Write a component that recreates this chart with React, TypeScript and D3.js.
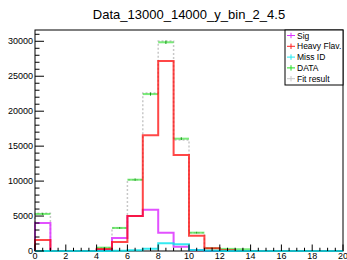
import * as d3 from 'd3';

const W = 347;
const H = 260;
const MARGIN = { top: 30, right: 4, bottom: 9, left: 35 };
const FONT = '"Liberation Sans", Arial, Helvetica, sans-serif';

// 20 bins of width 1 on [0, 20]
const binEdges = d3.range(0, 21);
const dataCounts = [5300, 0, 0, 0, 480, 3300, 10200, 22450, 29860, 16070, 2620, 380, 300, 250, 0, 0, 0, 0, 0, 0];
const sigCounts = [4000, 0, 0, 0, 150, 1860, 5000, 5900, 2620, 620, 120, 0, 0, 0, 0, 0, 0, 0, 0, 0];
const heavyFlavCounts = [1570, 0, 0, 0, 300, 1290, 5010, 16550, 27180, 13730, 2190, 380, 100, 0, 0, 0, 0, 0, 0, 0];
const missIdCounts = [0, 0, 0, 0, 0, 50, 100, 330, 1100, 960, 150, 50, 0, 0, 0, 0, 0, 0, 0, 0];
const fitCounts = [5400, 0, 0, 0, 450, 3300, 10200, 22600, 30040, 15880, 2600, 400, 100, 0, 0, 0, 0, 0, 0, 0];

const xTickLabels = [0, 2, 4, 6, 8, 10, 12, 14, 16, 18, 20];
const yTickLabels = [0, 5000, 10000, 15000, 20000, 25000, 30000];
const legendNames = ['Sig', 'Heavy Flav.', 'Miss ID', 'DATA', 'Fit result'];
const legendColors = ['#dd33ff', '#ff2020', '#22e8f0', '#22dd22', '#c8c8c8'];

const TITLE = 'Data_13000_14000_y_bin_2_4.5';

export default function App() {
  const x0 = MARGIN.left;
  const x1 = W - MARGIN.right;
  const y0 = H - MARGIN.bottom;
  const y1 = MARGIN.top;

  const xScale = d3.scaleLinear().domain([0, 20]).range([x0, x1]);
  const yScale = d3.scaleLinear().domain([0, 31616]).range([y0, y1]);

  // ROOT style step outline of a histogram
  const stepPath = (counts: number[]) => {
    const pts: [number, number][] = [[0, 0]];
    counts.forEach((v, i) => {
      pts.push([binEdges[i], v]);
      pts.push([binEdges[i + 1], v]);
    });
    pts.push([20, 0]);
    return d3
      .line<[number, number]>()
      .x((d) => xScale(d[0]))
      .y((d) => yScale(d[1]))(pts) as string;
  };

  const xMinor = d3.range(0, 20.001, 0.5);
  const yMinor = d3.range(0, 31001, 1000);
  const majorX = 6.5;
  const majorY = 9;

  const legX = 285;
  const legY = 30;
  const legW = x1 - legX;
  const legH = 55;

  return (
    <svg
      width={W}
      height={H}
      style={{ position: 'absolute', left: 0, top: 0, background: '#fff' }}
      fontFamily={FONT}
    >
      <rect x={0} y={0} width={W} height={H} fill="#fff" />
      <text x={189} y={18.5} textAnchor="middle" fontSize={13} fill="#000">
        {TITLE}
      </text>

      {/* fit result */}
      <path d={stepPath(fitCounts)} fill="none" stroke="#c8c8c8" strokeWidth={1.5} strokeDasharray="2,2" />

      {/* data points as bin-wide segments with error bars */}
      {dataCounts.map((v, i) => (
        <g key={'d' + i}>
          <line
            x1={xScale(binEdges[i])}
            x2={xScale(binEdges[i + 1])}
            y1={yScale(v)}
            y2={yScale(v)}
            stroke="#22dd22"
            strokeOpacity={0.6}
            strokeWidth={2}
          />
          {v > 0 && (
            <line
              x1={xScale(binEdges[i] + 0.5)}
              x2={xScale(binEdges[i] + 0.5)}
              y1={yScale(v + Math.sqrt(v)) - 0.5}
              y2={yScale(v - Math.sqrt(v)) + 0.5}
              stroke="#1a9a1a"
              strokeWidth={1}
            />
          )}
        </g>
      ))}

      <path d={stepPath(sigCounts)} fill="none" stroke="#dd33ff" strokeOpacity={0.85} strokeWidth={2} />
      <path d={stepPath(heavyFlavCounts)} fill="none" stroke="#ff0000" strokeOpacity={0.72} strokeWidth={2} />

      {/* frame and axes */}
      <rect x={x0} y={y1} width={x1 - x0} height={y0 - y1} fill="none" stroke="#000" strokeWidth={1} />
      <path d={stepPath(missIdCounts)} fill="none" stroke="#00e5ee" strokeOpacity={0.8} strokeWidth={2} />

      {xMinor.map((t, i) => {
        const major = Math.abs(t % 2) < 1e-6;
        return (
          <line
            key={'xt' + i}
            x1={xScale(t)}
            x2={xScale(t)}
            y1={y0}
            y2={y0 - (major ? majorX : majorX / 2)}
            stroke="#000"
            strokeWidth={1}
          />
        );
      })}
      {xTickLabels.map((t) => (
        <text key={'xl' + t} x={xScale(t)} y={259} textAnchor="middle" fontSize={9} fill="#000">
          {t}
        </text>
      ))}

      {yMinor.map((t, i) => {
        const major = t % 5000 === 0;
        return (
          <line
            key={'yt' + i}
            x1={x0}
            x2={x0 + (major ? majorY : majorY / 2)}
            y1={yScale(t)}
            y2={yScale(t)}
            stroke="#000"
            strokeWidth={1}
          />
        );
      })}
      {yTickLabels.map((t) => (
        <text
          key={'yl' + t}
          x={x0 - 2}
          y={yScale(t)}
          textAnchor="end"
          dominantBaseline="central"
          fontSize={9}
          fill="#000"
        >
          {t}
        </text>
      ))}

      {/* legend */}
      <rect x={legX} y={legY} width={legW} height={legH} fill="#fff" stroke="#000" strokeWidth={1} />
      {legendNames.map((name, i) => {
        const cy = legY + 5.5 + i * 10.8;
        const cx = 291;
        return (
          <g key={name}>
            <line x1={cx - 4} x2={cx + 4} y1={cy} y2={cy} stroke={legendColors[i]} strokeWidth={1} />
            <line x1={cx} x2={cx} y1={cy - 2.7} y2={cy + 2.7} stroke={legendColors[i]} strokeWidth={1} />
            <text x={297} y={cy} dominantBaseline="central" fontSize={8.5} fill="#000">
              {name}
            </text>
          </g>
        );
      })}
    </svg>
  );
}
